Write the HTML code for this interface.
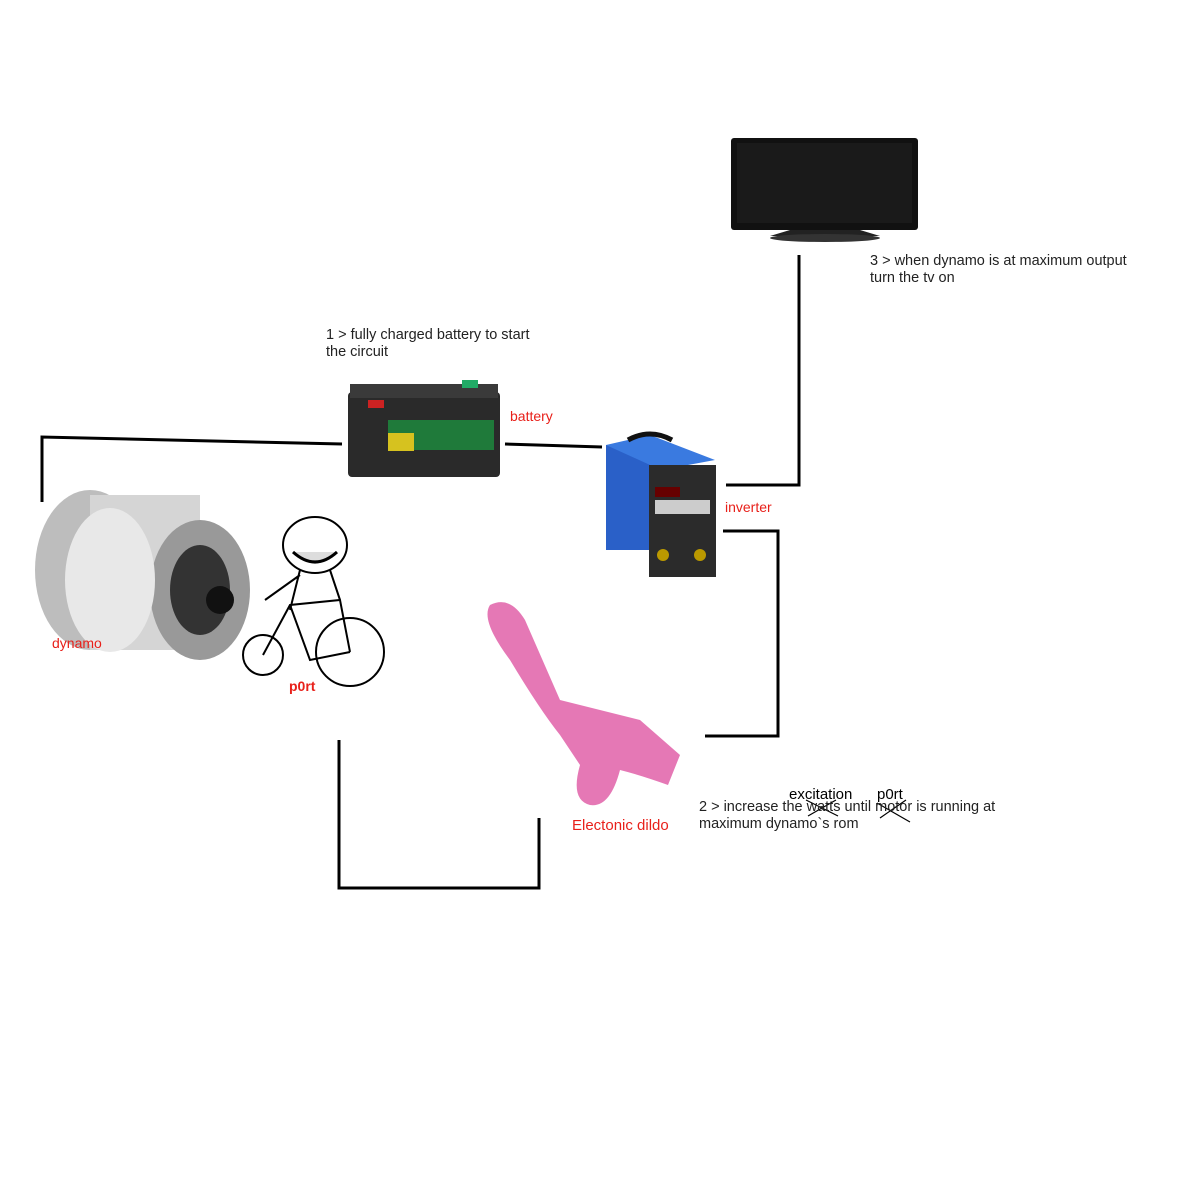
<!DOCTYPE html>
<html><head><meta charset="utf-8"><style>
body{margin:0;width:1200px;height:1200px;background:#fff;position:relative;overflow:hidden;font-family:"Liberation Sans",sans-serif}
.t{position:absolute;font-size:14.5px;color:#222;line-height:17px;white-space:nowrap}
.r{position:absolute;color:#e8201a;font-size:14px;white-space:nowrap}
svg{position:absolute;left:0;top:0}
</style></head><body>
<svg width="1200" height="1200" viewBox="0 0 1200 1200">
<g stroke="#000" stroke-width="3" fill="none">
<polyline points="42,502 42,437 342,444"/>
<polyline points="505,444 602,447"/>
<polyline points="799,255 799,485 726,485"/>
<polyline points="723,531 778,531 778,736 705,736"/>
<polyline points="339,740 339,888 539,888 539,818"/>
</g>
<rect x="731" y="138" width="187" height="92" rx="3" fill="#111"/>
<rect x="737" y="143" width="175" height="80" fill="#1a1a1a"/>
<path d="M790 230 L860 230 L880 236 L770 236Z" fill="#222"/>
<ellipse cx="825" cy="238" rx="55" ry="4" fill="#333"/>
<rect x="348" y="392" width="152" height="85" rx="4" fill="#2a2a2a"/>
<rect x="350" y="384" width="148" height="14" fill="#3a3a3a"/>
<rect x="368" y="400" width="16" height="8" fill="#c22"/>
<rect x="462" y="380" width="16" height="8" fill="#2a6"/>
<rect x="388" y="420" width="106" height="30" fill="#1f7a3a"/>
<rect x="388" y="433" width="26" height="18" fill="#d6c21f"/>
<rect x="606" y="445" width="55" height="105" fill="#2a60c8"/>
<path d="M606 445 L650 435 L715 460 L661 470Z" fill="#3a7ae0"/>
<rect x="649" y="465" width="67" height="112" fill="#2b2b2b"/>
<rect x="655" y="487" width="25" height="10" fill="#600"/>
<rect x="655" y="500" width="55" height="14" fill="#ccc"/>
<circle cx="663" cy="555" r="6" fill="#b90"/><circle cx="700" cy="555" r="6" fill="#b90"/>
<path d="M628 440 Q650 428 672 440" stroke="#111" stroke-width="5" fill="none"/>
<ellipse cx="90" cy="570" rx="55" ry="80" fill="#bdbdbd"/>
<rect x="90" y="495" width="110" height="155" fill="#d5d5d5"/>
<ellipse cx="200" cy="590" rx="50" ry="70" fill="#999"/>
<ellipse cx="200" cy="590" rx="30" ry="45" fill="#333"/>
<circle cx="220" cy="600" r="14" fill="#111"/>
<ellipse cx="110" cy="580" rx="45" ry="72" fill="#e8e8e8"/>
<g stroke="#000" stroke-width="2" fill="none">
<circle cx="263" cy="655" r="20"/>
<circle cx="350" cy="652" r="34"/>
<path d="M263 655 L290 605 L340 600 L350 652 M290 605 L310 660 L350 652 M300 570 L290 610 M300 570 L330 570 L340 600 M300 575 L265 600"/>
</g>
<ellipse cx="315" cy="545" rx="32" ry="28" fill="#fff" stroke="#000" stroke-width="2"/>
<path d="M293 552 Q315 572 337 552" stroke="#000" stroke-width="3" fill="#ddd"/>
<path d="M490 605 Q510 595 525 620 L560 700 Q600 710 640 720 L680 755 L668 785 Q640 775 620 770 Q610 808 590 805 Q570 800 580 765 L560 735 Q540 710 510 660 Q480 620 490 605Z" fill="#e060a8" opacity=".85"/>
<g stroke="#000" stroke-width="1.2" fill="none">
<path d="M806 800 L838 816 M808 816 L836 800 M877 803 L910 822 M880 818 L906 800"/>
</g>
</svg>
<div class="t" style="left:870px;top:253px">3 &gt; when dynamo is at maximum output<br>turn the tv on</div>
<div class="t" style="left:326px;top:327px">1 &gt; fully charged battery to start<br>the circuit</div>
<div class="r" style="left:510px;top:408px">battery</div>
<div class="r" style="left:725px;top:499px">inverter</div>
<div class="r" style="left:52px;top:635px">dynamo</div>
<div class="r" style="left:289px;top:678px;font-weight:bold">p0rt</div>
<div class="r" style="left:572px;top:817px;font-size:15px">Electonic dildo</div>
<div class="t" style="left:789px;top:786px;font-size:15px;color:#000">excitation</div>
<div class="t" style="left:877px;top:786px;font-size:15px;color:#000">p0rt</div>
<div class="t" style="left:699px;top:799px">2 &gt; increase the watts until motor is running at<br>maximum dynamo`s rom</div>
</body></html>
